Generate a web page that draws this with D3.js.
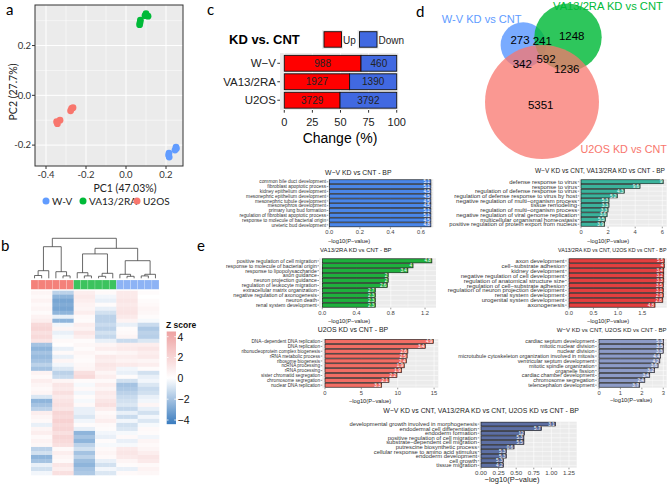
<!DOCTYPE html>
<html><head><meta charset="utf-8">
<script src="https://cdn.jsdelivr.net/npm/d3@7"></script>
<style>body{margin:0;background:#fff}svg{display:block}</style>
</head><body><svg id="fig" width="669" height="485"></svg>
<script>
// ================= DATA =================
// Panel a: PCA
const pcaGroups = ["W-V", "VA13/2RA", "U2OS"];
const pcaGroup = ["W-V","W-V","W-V","W-V","W-V","W-V",
  "VA13/2RA","VA13/2RA","VA13/2RA","VA13/2RA","VA13/2RA","VA13/2RA",
  "U2OS","U2OS","U2OS","U2OS","U2OS","U2OS"];
const pcaPC1 = [0.250, 0.245, 0.252, 0.215, 0.216, 0.213,
  0.070, 0.072, 0.068, 0.100, 0.110, 0.095,
  -0.272, -0.277, -0.265, -0.347, -0.330, -0.343];
const pcaPC2 = [-0.208, -0.220, -0.214, -0.232, -0.248, -0.240,
  0.292, 0.302, 0.284, 0.328, 0.318, 0.320,
  -0.053, -0.062, -0.050, -0.106, -0.100, -0.114];
const pcaXTicks = [-0.4, -0.2, 0.0, 0.2];
const pcaYTicks = [-0.2, 0.0, 0.2];

// Panel b: heatmap (rows x 6 sub-clusters: U2OS-1, U2OS-2, VA13-1, VA13-2, WV-1, WV-2)
const hmColGroups = ["U2OS","U2OS","U2OS","U2OS","U2OS","U2OS",
  "VA13/2RA","VA13/2RA","VA13/2RA","VA13/2RA","VA13/2RA","VA13/2RA",
  "W-V","W-V","W-V","W-V","W-V","W-V"];
const hmRows = [
  [0.5,-1.5,0.8,0.3,1.0,0.2],[0.3,-2.5,1.0,-0.3,1.0,0.0],[0.6,-3.0,0.8,-0.5,1.2,0.2],
  [0.3,-2.8,0.6,0.2,1.0,0.3],[0.5,-3.0,0.5,-0.5,1.2,0.5],[0.2,-2.5,0.8,-1.0,1.3,0.4],
  [0.6,-0.5,0.3,-1.5,1.0,0.2],[0.8,-2.5,0.2,-1.5,0.6,-0.2],[1.8,-0.3,0.8,-1.2,-0.5,-1.2],
  [2.0,0.5,0.6,-1.5,0.2,-1.8],[1.5,-0.5,1.2,-1.0,0.3,-1.5],[1.8,-0.2,0.8,-1.3,0.5,-1.6],
  [1.3,0.3,0.2,-0.5,-1.2,-0.8],[-2.0,0.1,0.4,0.5,0.8,0.8],[-2.5,-0.5,0.2,0.8,1.0,1.2],
  [-2.0,0.3,0.5,0.3,0.5,0.8],[-2.3,-0.5,0.3,1.0,0.8,1.0],[-2.0,0.5,0.2,0.8,0.6,0.5],
  [-1.5,-0.3,0.4,1.2,1.0,0.8],[-2.0,-0.8,0.5,1.0,-0.3,0.2],[0.6,-1.5,1.5,0.5,-0.5,-1.0],
  [0.3,-1.2,1.8,0.8,0.2,-0.5],[0.8,0.5,0.2,0.3,-1.0,-0.3],[0.5,1.2,-0.2,0.8,-2.0,-0.8],
  [0.3,1.0,0.3,0.5,-1.8,-1.2],[0.5,1.5,-0.3,1.0,-1.5,-1.0],[-0.8,1.0,0.2,0.8,-1.2,-0.5],
  [-2.5,1.3,-0.2,1.2,-1.0,-0.3],[-2.0,1.5,0.3,1.5,-0.8,0.5],[-1.5,1.2,-0.5,0.8,-1.3,-0.5],
  [0.8,2.0,-0.5,0.3,-0.5,-1.0],[0.5,1.8,-0.8,0.5,-1.2,-0.3],[0.3,2.2,-0.3,0.8,-0.3,-0.8],
  [-0.5,1.8,0.2,0.3,-1.0,-0.2],[0.5,2.0,-0.5,0.2,-0.8,0.3],[0.8,1.5,-2.5,-0.3,-0.2,0.2],
  [0.3,2.0,-2.0,-0.5,0.3,-0.3],[0.6,1.8,-2.5,0.2,-0.5,0.5],[0.4,1.5,-1.5,-0.2,-0.2,0.3],
  [-1.5,0.3,-1.0,0.3,1.0,0.5],[-1.0,0.8,-2.0,0.5,1.2,0.8],[-2.5,0.5,-1.5,0.3,1.0,1.2],
  [-2.0,0.3,-2.2,-0.5,0.5,1.0],[-0.5,1.2,-2.5,-1.0,0.2,0.3],[-1.0,0.8,-2.0,-0.3,-0.5,0.6],
  [-0.3,1.5,-1.8,-0.8,0.3,0.4]
];
const hmLegendTicks = [4, 2, 0, -2, -4];
// column dendrogram (merge heights, leaves = column index)
const dendro = {h:1.0, c:[
  {h:0.79, c:[{h:0.19, c:[{h:0.07, c:[0,1]}, 2]}, {h:0.165, c:[3, {h:0.06, c:[4,5]}]}]},
  {h:0.75, c:[
    {h:0.61, c:[{h:0.14, c:[6, {h:0.06, c:[7,8]}]}, {h:0.125, c:[{h:0.05, c:[9,10]}, 11]}]},
    {h:0.44, c:[{h:0.10, c:[12, {h:0.05, c:[13,14]}]}, {h:0.10, c:[{h:0.06, c:[15,16]}, 17]}]}
  ]}
]};

// Panel c
const cCats = ["W−V", "VA13/2RA", "U2OS"];
const cUp = [988, 1927, 3729];
const cDown = [460, 1390, 3792];
const cTicks = [0, 25, 50, 75, 100];

// Panel d: Venn counts
const vennSets = ["W-V KD vs CNT", "VA13/2RA KD vs CNT", "U2OS KD vs CNT"];
const vennRegions = ["W only","WV&VA","VA only","W&U","all","VA&U","U only"];
const vennCounts = [273, 241, 1248, 342, 592, 1236, 5351];

// Panel e: GO BP enrichment charts
const e1Labels = ["common bile duct development","fibroblast apoptotic process","kidney epithelium development","mesonephric epithelium development","mesonephric tubule development","mesonephros development","primary lung bud formation","regulation of fibroblast apoptotic process","response to molecule of bacterial origin","ureteric bud development"];
const e1Values = [0.665,0.665,0.665,0.665,0.665,0.665,0.665,0.665,0.665,0.665];
const e1Inner = ["5.1","5.1","4.5","4.5","4.5","4.5","5.1","5.1","4.5","4.8"];

const e2Labels = ["defense response to virus","response to virus","regulation of defense response to virus","regulation of defense response to virus by host","negative regulation of multi−organism process","tissue remodeling","regulation of multi−organism process","negative regulation of viral genome replication","multicellular organismal homeostasis","positive regulation of protein export from nucleus"];
const e2Values = [6.07, 4.36, 3.2, 2.68, 2.07, 2.07, 2.0, 1.93, 1.8, 1.75];
const e2Inner = ["9","9.6","4.3","5.2","5.3","3.3","3.3","3.6","5.5","3.9"];

const e3Labels = ["positive regulation of cell migration","response to molecule of bacterial origin","response to lipopolysaccharide","axon guidance","neuron projection guidance","regulation of leukocyte migration","extracellular matrix organization","negative regulation of axonogenesis","neuron death","renal system development"];
const e3Values = [1.28, 1.06, 1.0, 0.77, 0.77, 0.76, 0.62, 0.62, 0.62, 0.62];
const e3Inner = ["4.8","4","3.4","2","2","2.6","2.7","2.3","2.3","2.3"];

const e4Labels = ["axon development","cell−substrate adhesion","kidney development","negative regulation of cell development","regulation of anatomical structure size","regulation of cell−substrate adhesion","regulation of neuron projection development","renal system development","urogenital system development","axonogenesis"];
const e4Values = [1.95, 1.95, 1.94, 1.94, 1.94, 1.93, 1.93, 1.93, 1.92, 1.76];
const e4Inner = ["5.5","4","3.4","3.2","3.3","3.5","3.1","2.9","2.8","4.8"];

const e5Labels = ["DNA−dependent DNA replication","DNA replication","ribonucleoprotein complex biogenesis","rRNA metabolic process","ribosome biogenesis","ncRNA processing","rRNA processing","sister chromatid segregation","chromosome segregation","nuclear DNA replication"];
const e5Values = [14.9, 13.8, 11.4, 11.3, 11.2, 10.9, 10.55, 9.9, 8.8, 7.8];
const e5Inner = ["4.9","3.4","2.6","2.5","2.4","1.9","1.9","2.2","2.1","3.3"];

const e6Labels = ["cardiac septum development","mitotic nuclear division","nuclear division","microtubule cytoskeleton organization involved in mitosis","ventricular septum development","mitotic spindle organization","organelle fission","cardiac chamber development","chromosome segregation","telencephalon development"];
const e6Values = [3.02, 3.02, 3.0, 2.88, 2.84, 2.76, 2.6, 2.37, 2.14, 1.9];
const e6Inner = ["5.3","3.5","3.3","4.4","4.2","3.6","3.2","3.4","2.4","3.7"];

const e7Labels = ["developmental growth involved in morphogenesis","endodermal cell differentiation","endoderm formation","positive regulation of cell migration","substrate−dependent cell migration","putrescine biosynthetic process","cellular response to amino acid stimulus","endoderm development","cell growth","tissue migration"];
const e7Values = [1.06, 0.86, 0.62, 0.61, 0.61, 0.47, 0.36, 0.36, 0.32, 0.32];
const e7Inner = ["3.1","5.7","12","5.3","5.5","0.6","5.3","5.3","5.3","4.2"];

// ================= DRAW =================
const svg = d3.select("#fig");
svg.append("rect").attr("width", 669).attr("height", 485).attr("fill", "#fff");
const SANS = "'Liberation Sans', Arial, sans-serif";
const CAL = "Lato, 'Open Sans', sans-serif";
const grpColor = d3.scaleOrdinal().domain(pcaGroups).range(["#619CFF", "#00BA38", "#F8766D"]);

// scale a text's font-size so that its rendered width equals w
function fitWidth(sel, w) {
  const L = sel.node().getComputedTextLength();
  const fs = +sel.attr("font-size");
  if (L > 0) sel.attr("font-size", fs * w / L);
  return +sel.attr("font-size");
}

function letter(t, x, y) {
  svg.append("text").attr("x", x).attr("y", y).text(t)
    .attr("font-family", CAL).attr("font-size", 15).attr("fill", "#000");
}
letter("a", 6, 15); letter("b", 1, 251); letter("c", 207, 15); letter("d", 416, 17); letter("e", 197, 251);

// ---------- Panel a ----------
(function () {
  const x = d3.scaleLinear().domain([-0.455, 0.285]).range([35, 183]);
  const y = d3.scaleLinear().domain([-0.284, 0.363]).range([166, 5]);
  const g = svg.append("g");
  g.append("rect").attr("x", 35).attr("y", 5).attr("width", 148).attr("height", 161).attr("fill", "#ebebeb");
  const xMinor = [-0.3, -0.1, 0.1], yMinor = [-0.1, 0.1, 0.3];
  g.selectAll(".xm").data(xMinor).join("line").attr("x1", d => x(d)).attr("x2", d => x(d)).attr("y1", 5).attr("y2", 166).attr("stroke", "#fff").attr("stroke-width", 0.5);
  g.selectAll(".ym").data(yMinor).join("line").attr("y1", d => y(d)).attr("y2", d => y(d)).attr("x1", 35).attr("x2", 183).attr("stroke", "#fff").attr("stroke-width", 0.5);
  g.selectAll(".xM").data(pcaXTicks).join("line").attr("x1", d => x(d)).attr("x2", d => x(d)).attr("y1", 5).attr("y2", 166).attr("stroke", "#fff").attr("stroke-width", 1);
  g.selectAll(".yM").data(pcaYTicks).join("line").attr("y1", d => y(d)).attr("y2", d => y(d)).attr("x1", 35).attr("x2", 183).attr("stroke", "#fff").attr("stroke-width", 1);
  g.selectAll("circle").data(pcaPC1).join("circle")
    .attr("cx", d => x(d)).attr("cy", (d, i) => y(pcaPC2[i])).attr("r", 3.4)
    .attr("fill", (d, i) => grpColor(pcaGroup[i]));
  g.append("rect").attr("x", 35).attr("y", 5).attr("width", 148).attr("height", 161).attr("fill", "none").attr("stroke", "#333").attr("stroke-width", 1);
  g.selectAll(".xt").data(pcaXTicks).join("line").attr("x1", d => x(d)).attr("x2", d => x(d)).attr("y1", 166).attr("y2", 169).attr("stroke", "#333");
  g.selectAll(".yt").data(pcaYTicks).join("line").attr("y1", d => y(d)).attr("y2", d => y(d)).attr("x1", 32).attr("x2", 35).attr("stroke", "#333");
  g.selectAll(".xl").data(pcaXTicks).join("text").attr("x", d => x(d)).attr("y", 177.5).attr("text-anchor", "middle")
    .text(d => d3.format(".1f")(d).replace("−", "-")).attr("font-family", CAL).attr("font-size", 9.5).attr("fill", "#333");
  g.selectAll(".yl").data(pcaYTicks).join("text").attr("x", 31).attr("y", d => y(d) + 3.4).attr("text-anchor", "end")
    .text(d => d3.format(".1f")(d).replace("−", "-")).attr("font-family", CAL).attr("font-size", 9.5).attr("fill", "#333");
  g.append("text").attr("x", 125).attr("y", 191.5).attr("text-anchor", "middle").text("PC1 (47.03%)")
    .attr("font-family", CAL).attr("font-size", 10.5).attr("fill", "#222");
  g.append("text").attr("transform", "translate(17,92) rotate(-90)").attr("text-anchor", "middle").text("PC2 (27.7%)")
    .attr("font-family", CAL).attr("font-size", 10.5).attr("fill", "#222");
  const lx = [46, 83, 137];
  pcaGroups.forEach((gname, i) => {
    g.append("circle").attr("cx", lx[i]).attr("cy", 201).attr("r", 3.5).attr("fill", grpColor(gname));
    g.append("text").attr("x", lx[i] + 6).attr("y", 204.6).text(gname)
      .attr("font-family", CAL).attr("font-size", 10).attr("fill", "#222");
  });
})();

// ---------- Panel b ----------
(function () {
  const g = svg.append("g");
  const cols = d3.range(18);
  const x = d3.scaleBand().domain(cols).range([31, 159]);
  const rows = d3.range(hmRows.length);
  const y = d3.scaleBand().domain(rows).range([290.7, 475]);
  const col = d3.scaleLinear().domain([-4.4, 0, 4.5]).range(["#3a7cbf", "#ffffff", "#eea2a2"]);
  rows.forEach(r => {
    cols.forEach(c => {
      g.append("rect").attr("x", x(c)).attr("y", y(r)).attr("width", x.bandwidth() + 0.3).attr("height", y.bandwidth() + 0.3)
        .attr("fill", col(hmRows[r][Math.floor(c / 3)]));
    });
  });
  const annCol = d3.scaleOrdinal().domain(["W-V", "VA13/2RA", "U2OS"]).range(["#8db3f5", "#3cc35e", "#f4817a"]);
  cols.forEach(c => {
    g.append("rect").attr("x", x(c)).attr("y", 280).attr("width", x.bandwidth()).attr("height", 9.3)
      .attr("fill", annCol(hmColGroups[c])).attr("stroke", "rgba(255,255,255,0.35)").attr("stroke-width", 0.5);
  });
  const hy = h => 278.3 - h * 40;
  function layout(n) {
    if (typeof n === "number") return { x: x(n) + x.bandwidth() / 2, h: 0 };
    const kids = n.c.map(layout);
    const nx = d3.mean(kids, k => k.x);
    g.append("path").attr("d",
      `M${kids[0].x},${hy(kids[0].h)}V${hy(n.h)}H${kids[1].x}V${hy(kids[1].h)}`)
      .attr("fill", "none").attr("stroke", "#444").attr("stroke-width", 0.8);
    return { x: nx, h: n.h };
  }
  layout(dendro);
  const ly = d3.scaleLinear().domain([4, -4]).range([336.7, 420]);
  const defs = svg.append("defs");
  const grad = defs.append("linearGradient").attr("id", "zgrad").attr("x1", 0).attr("x2", 0).attr("y1", 0).attr("y2", 1);
  d3.range(0, 1.0001, 0.05).forEach(t => {
    const v = 4.5 - t * 8.9;
    grad.append("stop").attr("offset", t).attr("stop-color", col(v));
  });
  g.append("rect").attr("x", 166.7).attr("y", ly(4.5)).attr("width", 9.3).attr("height", ly(-4.4) - ly(4.5)).attr("fill", "url(#zgrad)");
  hmLegendTicks.forEach(t => {
    g.append("line").attr("x1", 166.7).attr("x2", 168.5).attr("y1", ly(t)).attr("y2", ly(t)).attr("stroke", "#fff").attr("stroke-width", 0.8);
    g.append("line").attr("x1", 174.2).attr("x2", 176).attr("y1", ly(t)).attr("y2", ly(t)).attr("stroke", "#fff").attr("stroke-width", 0.8);
    g.append("text").attr("x", 177.5).attr("y", ly(t) + 3.8).text(t < 0 ? "−" + Math.abs(t) : String(t))
      .attr("font-family", SANS).attr("font-size", 10.5).attr("fill", "#111");
  });
  g.append("text").attr("x", 166).attr("y", 328).text("Z score").attr("font-family", SANS)
    .attr("font-weight", "bold").attr("font-size", 8.5).attr("fill", "#111");
})();

// ---------- Panel c ----------
(function () {
  const g = svg.append("g");
  const x = d3.scaleLinear().domain([-3.8, 101.4]).range([280, 398.3]);
  const y = d3.scaleBand().domain(cCats).range([53.5, 110]).paddingInner(0.14).paddingOuter(0.1);
  g.append("rect").attr("x", 280).attr("y", 53).attr("width", 118.3).attr("height", 57).attr("fill", "#ebebeb");
  g.selectAll(".gl").data(cTicks).join("line").attr("x1", d => x(d)).attr("x2", d => x(d)).attr("y1", 53).attr("y2", 110).attr("stroke", "#fff").attr("stroke-width", 0.8);
  cCats.forEach((c, i) => {
    const tot = cUp[i] + cDown[i];
    const up = 100 * cUp[i] / tot;
    g.append("rect").attr("x", x(0)).attr("y", y(c)).attr("width", x(up) - x(0)).attr("height", y.bandwidth())
      .attr("fill", "#ff0000").attr("stroke", "#111").attr("stroke-width", 0.9);
    g.append("rect").attr("x", x(up)).attr("y", y(c)).attr("width", x(100) - x(up)).attr("height", y.bandwidth())
      .attr("fill", "#4169e1").attr("stroke", "#111").attr("stroke-width", 0.9);
    g.append("text").attr("x", x(up / 2)).attr("y", y(c) + y.bandwidth() / 2 + 3.6).attr("text-anchor", "middle")
      .text(cUp[i]).attr("font-family", SANS).attr("font-size", 10).attr("fill", "#222");
    g.append("text").attr("x", x(up + (100 - up) / 2)).attr("y", y(c) + y.bandwidth() / 2 + 3.6).attr("text-anchor", "middle")
      .text(cDown[i]).attr("font-family", SANS).attr("font-size", 10).attr("fill", "#222");
    g.append("line").attr("x1", 277.3).attr("x2", 280).attr("y1", y(c) + y.bandwidth() / 2).attr("y2", y(c) + y.bandwidth() / 2).attr("stroke", "#333");
    g.append("text").attr("x", 276).attr("y", y(c) + y.bandwidth() / 2 + 4).attr("text-anchor", "end")
      .text(c).attr("font-family", SANS).attr("font-size", 11.5).attr("fill", "#222");
  });
  cTicks.forEach(t => {
    g.append("line").attr("x1", x(t)).attr("x2", x(t)).attr("y1", 110).attr("y2", 112.7).attr("stroke", "#333");
    g.append("text").attr("x", x(t)).attr("y", 125.5).attr("text-anchor", "middle").text(t)
      .attr("font-family", SANS).attr("font-size", 11).attr("fill", "#222");
  });
  g.append("text").attr("x", 340).attr("y", 143).attr("text-anchor", "middle").text("Change (%)")
    .attr("font-family", SANS).attr("font-size", 14).attr("fill", "#000");
  g.append("text").attr("x", 229).attr("y", 44).text("KD vs. CNT")
    .attr("font-family", SANS).attr("font-size", 13).attr("font-weight", "bold").attr("fill", "#000");
  [[322, "#ff0000", "Up"], [357.5, "#4169e1", "Down"]].forEach(([lx, fc, lab]) => {
    g.append("rect").attr("x", lx).attr("y", 30).attr("width", 21).attr("height", 19).attr("fill", "#ebebeb");
    g.append("rect").attr("x", lx + 2).attr("y", 31.7).attr("width", 17.5).attr("height", 15.5).attr("fill", fc).attr("stroke", "#111").attr("stroke-width", 0.9);
    g.append("text").attr("x", lx + 21).attr("y", 44).text(lab).attr("font-family", SANS).attr("font-size", 10).attr("fill", "#222");
  });
})();

// ---------- Panel d ----------
(function () {
  const g = svg.append("g");
  const circles = [
    { cx: 523.3, cy: 45, r: 22.7, c: "#619CFF", o: 0.85 },
    { cx: 568, cy: 37.3, r: 33.7, c: "#00BA38", o: 0.82 },
    { cx: 542, cy: 102, r: 57, c: "#F8766D", o: 0.75 }
  ];
  circles.forEach(c => g.append("circle").attr("cx", c.cx).attr("cy", c.cy).attr("r", c.r).attr("fill", c.c).attr("fill-opacity", c.o));
  const pos = [[520, 39.3], [542.3, 40.7], [571.7, 35.7], [522.3, 64], [546, 58.3], [566.7, 68.3], [540.7, 105]];
  vennCounts.forEach((v, i) => {
    g.append("text").attr("x", pos[i][0]).attr("y", pos[i][1] + 4.2).attr("text-anchor", "middle").text(v)
      .attr("font-family", SANS).attr("font-size", 11.5).attr("fill", "#000");
  });
  // [left x, vertical centre, width, colour]
  const setLab = [[441.7, 19.5, 80, "#619CFF"], [553, 5.8, 110, "#00BA38"], [580.5, 149.5, 86.5, "#F8766D"]];
  setLab.forEach((s, i) => {
    const t = g.append("text").attr("x", s[0]).attr("y", 0).text(vennSets[i]).attr("font-family", SANS).attr("font-size", 12)
      .attr("fill", s[3]);
    const fs = fitWidth(t, s[2]);
    t.attr("y", s[1] + fs * 0.36);
  });
})();

// ---------- Panel e ----------
function barPanel(o) {
  const g = svg.append("g");
  const x = d3.scaleLinear().domain(o.dom).range([o.x0, o.x1]);
  const y = d3.scaleBand().domain(o.labels).range([o.y0, o.y1]).paddingInner(0.16).paddingOuter(0.1);
  g.append("rect").attr("x", o.x0).attr("y", o.y0).attr("width", o.x1 - o.x0).attr("height", o.y1 - o.y0).attr("fill", "#ebebeb");
  const ticks = d3.range(0, o.dom[1] + 1e-9, o.step);
  const minor = ticks.map(t => t + o.step / 2).filter(t => t < o.dom[1]);
  minor.forEach(t => g.append("line").attr("x1", x(t)).attr("x2", x(t)).attr("y1", o.y0).attr("y2", o.y1).attr("stroke", "#fff").attr("stroke-width", 0.3));
  ticks.forEach(t => g.append("line").attr("x1", x(t)).attr("x2", x(t)).attr("y1", o.y0).attr("y2", o.y1).attr("stroke", "#fff").attr("stroke-width", 0.6));
  const labs = [];
  o.labels.forEach((l, i) => {
    const cy = y(l) + y.bandwidth() / 2;
    g.append("line").attr("x1", o.x0).attr("x2", o.x1).attr("y1", cy).attr("y2", cy).attr("stroke", "#fff").attr("stroke-width", 0.5);
    g.append("rect").attr("x", x(0)).attr("y", y(l)).attr("width", x(o.values[i]) - x(0)).attr("height", y.bandwidth())
      .attr("fill", o.color).attr("stroke", "#111").attr("stroke-width", 0.6);
    g.append("text").attr("x", x(o.values[i]) - 1).attr("y", cy + 1.6).attr("text-anchor", "end").text(o.inner[i])
      .attr("font-family", SANS).attr("font-size", 4.6).attr("fill", "#fff");
    g.append("line").attr("x1", o.x0 - 1.6).attr("x2", o.x0).attr("y1", cy).attr("y2", cy).attr("stroke", "#333").attr("stroke-width", 0.5);
    labs.push(g.append("text").attr("x", o.x0 - 2.2).attr("y", cy).attr("text-anchor", "end").text(l)
      .attr("font-family", SANS).attr("font-size", 5).attr("fill", "#333"));
  });
  const lfs = fitWidth(labs[o.refIdx], o.refW);
  labs.forEach(t => t.attr("font-size", lfs).attr("y", +t.attr("y") + lfs * 0.35));
  ticks.forEach(t => {
    g.append("line").attr("x1", x(t)).attr("x2", x(t)).attr("y1", o.y1).attr("y2", o.y1 + 1.6).attr("stroke", "#333").attr("stroke-width", 0.5);
    g.append("text").attr("x", x(t)).attr("y", o.y1 + 7).attr("text-anchor", "middle").text(o.fmt(t))
      .attr("font-family", SANS).attr("font-size", o.tfs || 5.8).attr("fill", "#444");
  });
  const tt = g.append("text").attr("x", o.tx).attr("y", 0).text(o.title)
    .attr("font-family", SANS).attr("font-size", 6.8).attr("fill", "#222");
  const tfs = fitWidth(tt, o.tw);
  tt.attr("y", o.ty - 2.3 + tfs * 0.36);
  const xt = g.append("text").attr("x", o.xtx).attr("y", 0).attr("text-anchor", "middle").text("−log10(P−value)")
    .attr("font-family", SANS).attr("font-size", 6).attr("fill", "#222");
  const xfs = fitWidth(xt, o.xtw || 42.3);
  xt.attr("y", o.xty - 2.3 + xfs * 0.36);
}

barPanel({ labels: e1Labels, values: e1Values, inner: e1Inner, color: "#4a86e8", refIdx: 1, refW: 59,
  dom: [-0.0065, 0.6806], x0: 328.3, x1: 433.3, y0: 179.3, y1: 227.3, step: 0.2, fmt: d3.format(".1f"),
  title: "W−V KD vs CNT - BP", tx: 325, tw: 66.7, ty: 175, xtx: 349, xty: 243 });
barPanel({ labels: e2Labels, values: e2Values, inner: e2Inner, color: "#3bb39c", refIdx: 0, refW: 68,
  dom: [-0.125, 6.325], x0: 579.3, x1: 666.7, y0: 179.3, y1: 226.7, step: 2, fmt: d3.format("d"),
  title: "W−V KD vs CNT, VA13/2RA KD vs CNT -  BP", tx: 535, tw: 130, ty: 173, xtx: 608, xty: 243 });
barPanel({ labels: e3Labels, values: e3Values, inner: e3Inner, color: "#1eb03d", refIdx: 9, refW: 61,
  dom: [-0.0386, 1.328], x0: 319, x1: 436, y0: 258.3, y1: 307.7, step: 0.4, fmt: d3.format(".1f"),
  title: "VA13/2RA KD vs CNT - BP", tx: 320, tw: 71.7, ty: 252, xtx: 349, xty: 323 });
barPanel({ labels: e4Labels, values: e4Values, inner: e4Inner, color: "#e33f3f", refIdx: 0, refW: 49,
  dom: [-0.047, 1.999], x0: 566.7, x1: 666.7, y0: 258.3, y1: 307.7, step: 0.5, fmt: d3.format(".1f"),
  title: "VA13/2RA KD vs CNT, U2OS KD vs CNT - BP", tx: 558, tw: 108.5, ty: 252, xtx: 608, xty: 323 });
barPanel({ labels: e5Labels, values: e5Values, inner: e5Inner, color: "#f26d64", refIdx: 9, refW: 49.3,
  dom: [-0.37, 15.58], x0: 322.3, x1: 438.3, y0: 339, y1: 387.7, step: 5, fmt: d3.format("d"),
  title: "U2OS KD vs CNT - BP", tx: 317.7, tw: 70.6, ty: 332, xtx: 370, xty: 403 });
barPanel({ labels: e6Labels, values: e6Values, inner: e6Inner, color: "#8d9bc7", refIdx: 6, refW: 39.3,
  dom: [-0.107, 3.16], x0: 596.7, x1: 666.7, y0: 339, y1: 387.7, step: 1, fmt: d3.format("d"),
  title: "W−V KD vs CNT, U2OS KD vs CNT - BP", tx: 556.7, tw: 110, ty: 332, xtx: 631, xty: 402 });
barPanel({ labels: e7Labels, values: e7Values, inner: e7Inner, color: "#5d6fa3", refIdx: 0, refW: 128,
  dom: [-0.024, 1.36], x0: 479.3, x1: 576.7, y0: 421.7, y1: 467.7, step: 0.25, fmt: d3.format(".2f"),
  title: "W−V KD vs CNT, VA13/2RA KD vs CNT, U2OS KD vs CNT - BP", tx: 383.3, tw: 196, ty: 413,
  xtx: 512, xty: 482, xtw: 55, tfs: 6.2 });
</script></body></html>
